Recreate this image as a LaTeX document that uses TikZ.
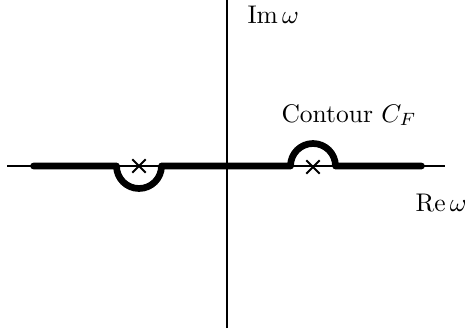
\documentclass[tikz,border=0pt]{standalone}
\usetikzlibrary{calc}
\begin{document}
\begin{tikzpicture}[x=1pt,y=1pt,
  axis/.style={line width=1.2pt},
  contour/.style={line width=6.7pt, line cap=round, line join=round},
  pole/.style={line width=2pt},
  lbl/.style={inner sep=0pt, anchor=base west, scale=2.55}]
\useasboundingbox (0,0) rectangle (465,333);
% axes
\coordinate (yb) at (227,5);
\coordinate (yt) at (227,333);
\coordinate (xl) at (7,167);
\coordinate (xr) at (445,167);
\draw[axis] (yb) -- (yt);
\draw[axis] (xl) -- (xr);
% contour
\coordinate (c0) at (33.5,167);
\coordinate (c1) at (116.5,167);
\coordinate (c2) at (290.5,167);
\coordinate (c3) at (421.5,167);
\draw[contour] (c0) -- (c1) arc[start angle=180, end angle=360, radius=22.5]
  -- (c2) arc[start angle=180, end angle=0, radius=22.5] -- (c3);
% poles
\coordinate (p1) at (139,167);
\coordinate (p2) at (313,166);
\foreach \p in {p1,p2}{
  \draw[pole] ($(\p)+(-6.7,-6.7)$) -- ($(\p)+(6.7,6.7)$);
  \draw[pole] ($(\p)+(-6.7,6.7)$) -- ($(\p)+(6.7,-6.7)$);
}
% labels
\node[lbl] (im) at (247,310) {$\mathrm{Im}\,\omega$};
\node[lbl] (cf) at (281,211) {Contour $C_F$};
\node[lbl] (re) at (415,122) {$\mathrm{Re}\,\omega$};
\end{tikzpicture}
\end{document}
